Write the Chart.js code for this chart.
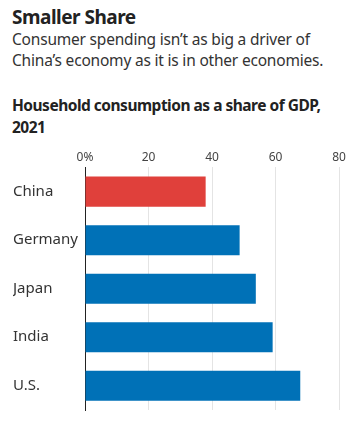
<!DOCTYPE html>
<html><head><meta charset="utf-8">
<script src="https://cdn.jsdelivr.net/npm/chart.js@4"></script>
<style>
html,body{margin:0;padding:0;background:#fff;width:358px;height:428px;overflow:hidden;font-family:"Noto Sans",sans-serif;color:#222}
#t{position:absolute;left:12px;top:4px;font-size:19px;font-weight:700;letter-spacing:-0.5px;color:#222}
#s{position:absolute;left:12px;top:29px;font-size:15.5px;line-height:21px;color:#333;letter-spacing:-0.2px}
#h{position:absolute;left:12px;top:94px;font-size:15.5px;line-height:22px;font-weight:700;letter-spacing:-0.5px;color:#222}
#c{position:absolute;left:0;top:140px;width:358px;height:285px}
</style></head><body>
<div id="t">Smaller Share</div>
<div id="s">Consumer spending isn’t as big a driver of<br>China’s economy as it is in other economies.</div>
<div id="h">Household consumption as a share of GDP,<br>2021</div>
<div id="c"><canvas id="cv"></canvas></div>
<script>
const categories = ["China","Germany","Japan","India","U.S."];
const values = [38.0, 48.7, 53.8, 59.1, 67.8];
const barColors = ["#e0403b","#0071b7","#0071b7","#0071b7","#0071b7"];
const tickValues = [0,20,40,60,80];

new Chart(document.getElementById('cv'), {
  type: 'bar',
  data: { labels: categories, datasets: [{ data: values, backgroundColor: barColors, borderWidth: 0, categoryPercentage: 1, barPercentage: 0.62 }] },
  options: {
    indexAxis: 'y', responsive: true, maintainAspectRatio: false, animation: false,
    layout: { padding: { left: 13, right: 19, top: 7, bottom: 15 } },
    plugins: { legend: { display: false }, tooltip: { enabled: false } },
    scales: {
      x: {
        position: 'top', min: 0, max: 80,
        afterBuildTicks: s => { s.ticks = tickValues.map(v => ({ value: v })); },
        ticks: { color: '#444', font: { family: 'Noto Sans', size: 12 }, padding: 3, callback: v => v === 0 ? '0%' : String(v) },
        grid: { color: ctx => ctx.tick && ctx.tick.value === 0 ? 'rgba(0,0,0,0)' : '#e4e4e4', drawTicks: false, lineWidth: 1 },
        border: { display: false }
      },
      y: {
        afterFit: s => { s.width = 72; },
        ticks: { crossAlign: 'far', color: '#333', font: { family: 'Noto Sans', size: 15 }, padding: 0 },
        grid: { display: false },
        border: { display: true, color: '#222', width: 1 }
      }
    }
  }
});
</script>
</body></html>
